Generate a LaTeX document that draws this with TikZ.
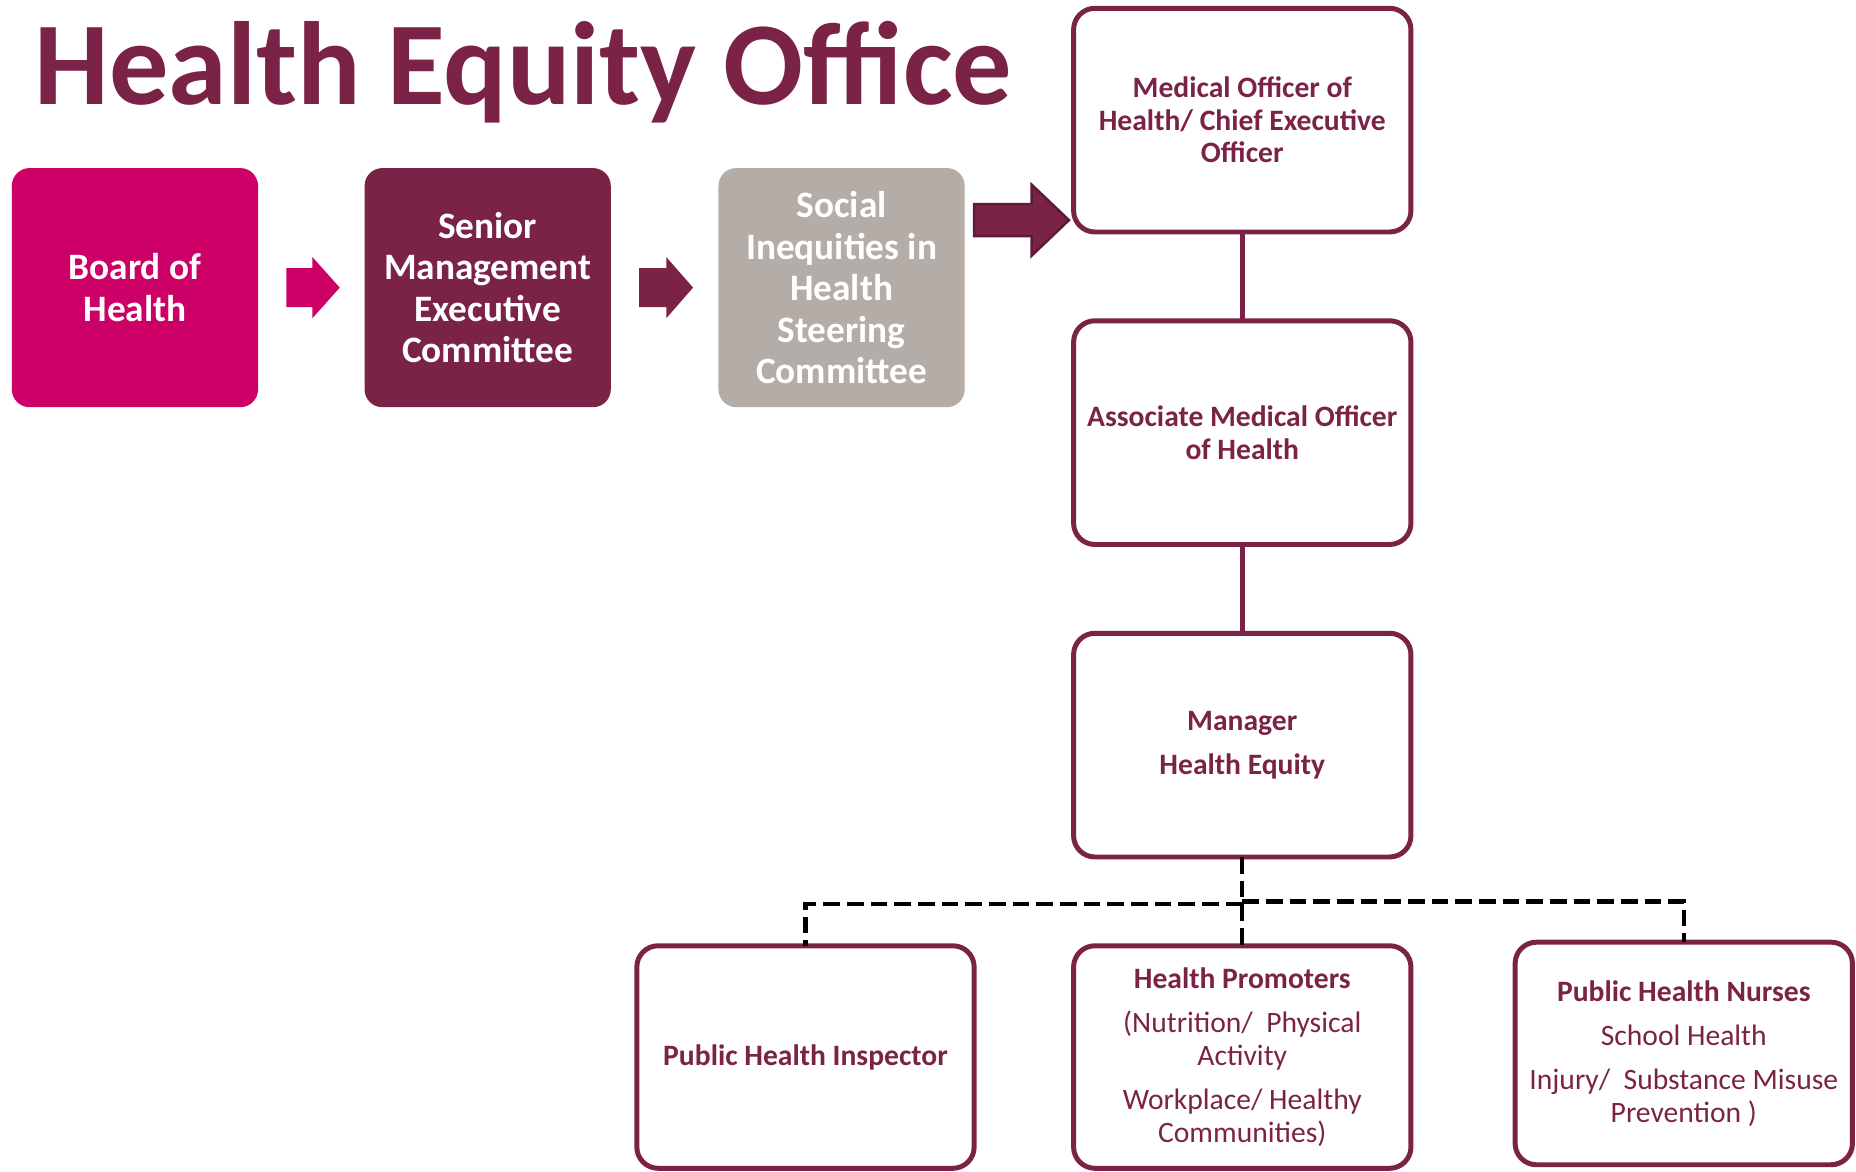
\documentclass[tikz,border=0pt]{standalone}
\usepackage{fontspec}
\setmainfont{Carlito}
\usetikzlibrary{positioning}
\definecolor{maroon}{HTML}{7B2346}
\definecolor{darkmaroon}{HTML}{5E1A36}
\definecolor{berry}{HTML}{CC0066}
\definecolor{stone}{HTML}{B4ACA6}
\begin{document}
\begin{tikzpicture}[x=1pt, y=-1pt,
        every node/.style = {align=center, inner sep=0pt, outer sep=0pt},
        filled/.style = {shape=rectangle, rounded corners=15pt,
            minimum width=208pt, minimum height=202pt, text=white,
            font=\bfseries\fontsize{31.5}{35}\selectfont},
        box/.style = {shape=rectangle, rounded corners=18pt,
            draw=maroon, line width=4.2pt, text=maroon,
            minimum width=285pt, minimum height=189pt,
            font=\fontsize{25}{27.5}\selectfont},
        dashline/.style = {draw=black, line width=3.6pt,
            dash pattern=on 14pt off 6pt}]
    \useasboundingbox (0,0) rectangle (1568,990);
    \node[anchor=base west, text=maroon,
        font=\bfseries\fontsize{100}{100}\selectfont] (title) at (29,88) {Health Equity Office};
    % committees
    \node[filled, fill=berry] (board) at (114,243) {Board of\\Health};
    \node[filled, fill=maroon, right=90pt of board] (senior) {Senior\\Management\\Executive\\Committee};
    \node[filled, fill=stone, right=91pt of senior] (social) {Social\\Inequities in\\Health\\Steering\\Committee};
    \fill[berry, shift={(board.east)}] (24,-16.5) -- (46,-16.5) -- (46,-25.75) -- (69,0)
        -- (46,25.75) -- (46,16.5) -- (24,16.5) -- cycle;
    \fill[maroon, shift={(senior.east)}] (24,-16.5) -- (47,-16.5) -- (47,-25.75) -- (69.5,0)
        -- (47,25.75) -- (47,16.5) -- (24,16.5) -- cycle;
    \filldraw[fill=maroon, draw=darkmaroon, line width=2.2pt, shift={(social.east)}]
        (8,-70.5) -- (56.5,-70.5) -- (56.5,-87) -- (88,-57) -- (56.5,-27)
        -- (56.5,-43.5) -- (8,-43.5) -- cycle;
    % office
    \node[box] (moh) at (1049.5,101.5) {\bfseries Medical Officer of\\\bfseries Health/ Chief Executive\\\bfseries Officer};
    \node[box, below=75pt of moh] (amoh) {\bfseries Associate Medical Officer\\\bfseries of Health};
    \node[box, below=75pt of amoh] (mgr) {\bfseries Manager\\[10pt]\bfseries Health Equity};
    \node[box, below=75pt of mgr, minimum height=188pt] (hp) {\bfseries Health Promoters\\[10pt]
        (Nutrition/\ \ Physical\\Activity\\[10pt]Workplace/ Healthy\\Communities)};
    \node[box, left=84pt of hp, minimum height=188pt] (phi) {\bfseries Public Health Inspector};
    \node[box, right=88pt of hp, yshift=3pt, minimum height=188pt] (phn) {\bfseries Public Health Nurses\\[10pt]
        School Health\\[10pt]Injury/\ \ Substance Misuse\\Prevention )};
    \draw[maroon, line width=4.2pt] (moh) -- (amoh);
    \draw[maroon, line width=4.2pt] (amoh) -- (mgr);
    % dashed links
    \coordinate (jl) at (1049.5,763.5);
    \coordinate (jr) at (1049.5,761.5);
    \draw[dashline] (mgr.south) -- (hp.north);
    \draw[dashline] (jl) -| (phi.north);
    \draw[dashline] (jr) -| (phn.north);
\end{tikzpicture}
\end{document}
